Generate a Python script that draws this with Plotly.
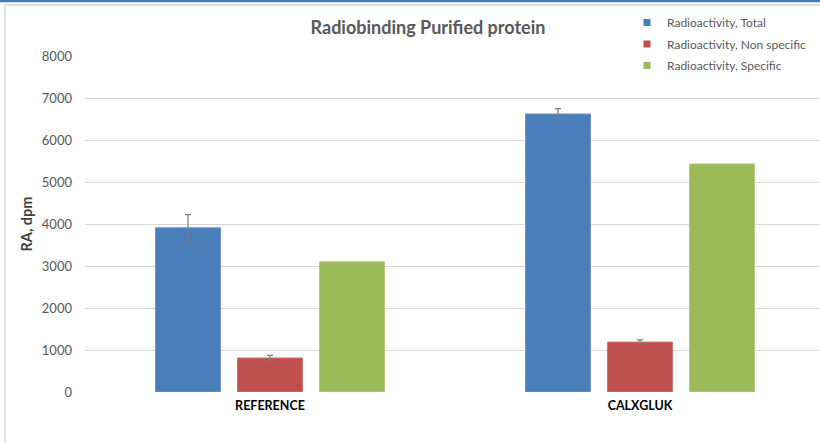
import plotly.graph_objects as go

categories = ["REFERENCE", "CALXGLUK"]
series_names = ["Radioactivity, Total", "Radioactivity, Non specific", "Radioactivity, Specific"]
total = [3910, 6620]
total_err = [315, 125]
nonspecific = [810, 1190]
nonspecific_err = [60, 50]
specific = [3100, 5430]
y_ticks = [0, 1000, 2000, 3000, 4000, 5000, 6000, 7000, 8000]

colors = ["#4a7ebb", "#c0504d", "#9bbb59"]
edge = ["#6d95c8", "#cf7673", "#b0ca7e"]
FONT = "Lato, 'Open Sans', sans-serif"
W, H = 820, 443
L, R, T, B = 85, 0, 56, 51
pw, ph = W - L - R, H - T - B

def px_x(p):
    return (p - L) / pw

def px_y(p):
    return (H - B - p) / ph

fig = go.Figure()
vals = [total, nonspecific, specific]
errs = [total_err, nonspecific_err, None]
for i in range(3):
    fig.add_trace(go.Bar(
        x=categories, y=vals[i], name=series_names[i], showlegend=False,
        marker=dict(color=colors[i], line=dict(color=edge[i], width=1)),
        error_y=(dict(type="data", array=errs[i], visible=True, color="#7a7a7a",
                      thickness=1.2, width=3) if errs[i] else None),
    ))
for i in range(3):
    fig.add_trace(go.Scatter(
        x=[None], y=[None], mode="markers", name=series_names[i],
        legendgroup=str(i),
        marker=dict(symbol="square", size=7, color=colors[i]),
    ))

shapes = [
    dict(type="rect", xref="paper", yref="paper", x0=px_x(-5), x1=px_x(825),
         y0=px_y(2.2), y1=px_y(-2), fillcolor="#4a7ab0", line=dict(width=0), layer="above"),
    dict(type="line", xref="paper", yref="paper", x0=px_x(5), x1=px_x(825),
         y0=px_y(5), y1=px_y(5), line=dict(color="#d9d9d9", width=1.5)),
    dict(type="line", xref="paper", yref="paper", x0=px_x(5), x1=px_x(5),
         y0=px_y(5), y1=px_y(445), line=dict(color="#d9d9d9", width=1.5)),
]

fig.update_layout(
    width=W, height=H,
    margin=dict(l=L, r=R, t=T, b=B, autoexpand=False),
    paper_bgcolor="white", plot_bgcolor="white",
    barmode="group", bargap=0.335, bargroupgap=0.207,
    font=dict(family=FONT, color="#595959", size=11),
    title=dict(text="<b>Radiobinding Purified protein</b>", x=428 / W, xref="container",
               xanchor="center", y=1 - 28 / H, yref="container", yanchor="middle",
               font=dict(size=18, color="#595959", family=FONT)),
    legend=dict(x=px_x(627), y=px_y(8), xanchor="left", yanchor="top",
                bgcolor="rgba(0,0,0,0)", font=dict(size=12, color="#595959", family=FONT),
                tracegroupgap=2.5, itemwidth=30),
    xaxis=dict(range=[-0.5, -0.5 + pw / 370], showgrid=False, zeroline=False,
               showline=False, ticks="", ticklabelstandoff=4, automargin=False,
               tickfont=dict(size=12.5, color="#000000", family=FONT),
               tickprefix="<b>", ticksuffix="</b>"),
    yaxis=dict(range=[0, 8000], tickvals=y_ticks, showgrid=True, gridcolor="#d9d9d9",
               gridwidth=1, zeroline=False, showline=False, ticks="", automargin=False,
               ticklabelstandoff=12, tickfont=dict(size=13, color="#595959", family=FONT),
               title=dict(text="<b>RA, dpm</b>", standoff=5,
                          font=dict(size=14.5, color="#404040", family=FONT))),
    shapes=shapes,
)
fig.write_html("out.html", config={"displayModeBar": False},
               post_script="document.body.style.margin='0';document.body.style.overflow='hidden';")
